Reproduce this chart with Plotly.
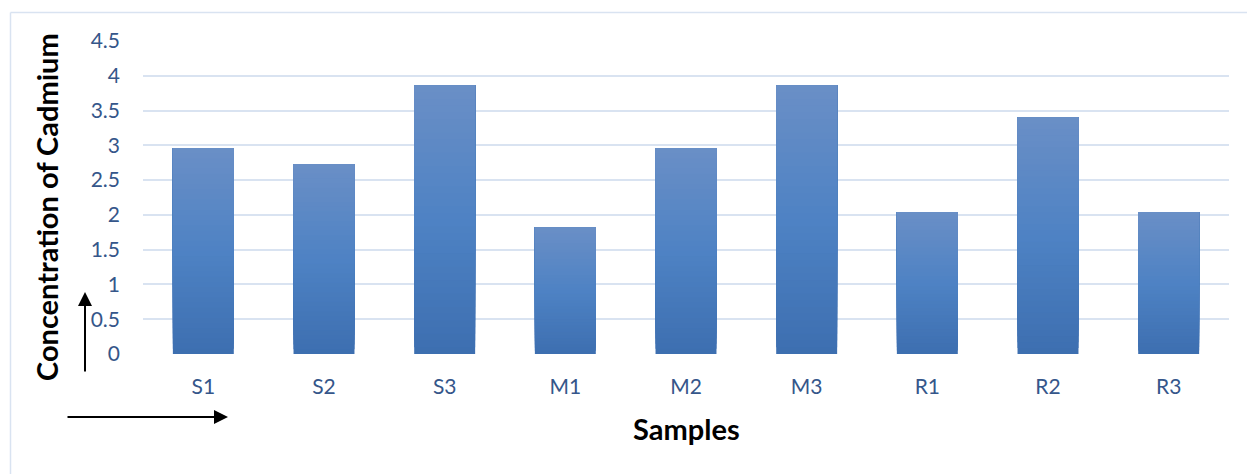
import plotly.graph_objects as go

# Cadmium concentration per sample
samples = ["S1", "S2", "S3", "M1", "M2", "M3", "R1", "R2", "R3"]
cadmium = [2.96, 2.73, 3.86, 1.82, 2.96, 3.86, 2.04, 3.40, 2.04]
y_ticks = [0, 0.5, 1, 1.5, 2, 2.5, 3, 3.5, 4, 4.5]
y_tick_text = ["0", "0.5", "1", "1.5", "2", "2.5", "3", "3.5", "4", "4.5"]

W, H = 1247, 474
L, R, T, B = 143, 18, 41, 120
PW, PH = W - L - R, H - T - B
FONT = "Lato"
TICK_COLOR = "#35568a"


def px(x):
    return (x - L) / PW


def py(y):
    return (H - B - y) / PH


def lerp(c0, c1, t):
    return tuple(round(a + (b - a) * t) for a, b in zip(c0, c1))


# vertical gradient on each bar: dark at base, brighter middle, lighter top
stops = [(0.0, (61, 111, 176)), (0.5, (78, 130, 196)), (1.0, (106, 143, 198))]


def grad(t):
    for (t0, c0), (t1, c1) in zip(stops, stops[1:]):
        if t <= t1:
            return lerp(c0, c1, (t - t0) / (t1 - t0))
    return stops[-1][1]


# each layer runs from its own start up to the bar's top, so later layers
# cover earlier ones and the bands join without seams
N = 40
fig = go.Figure()
for k in range(N):
    c = grad((k + 0.5) / N)
    fig.add_trace(go.Bar(
        x=samples,
        y=[v * (N - k) / N for v in cadmium],
        base=[v * k / N for v in cadmium],
        width=0.505,
        marker=dict(color=f"rgb{c}", line=dict(width=0)),
        showlegend=False,
        hoverinfo="skip",
    ))

fig.update_layout(
    width=W, height=H,
    margin=dict(l=L, r=R, t=T, b=B),
    barmode="overlay",
    paper_bgcolor="white",
    plot_bgcolor="white",
    font=dict(family=FONT),
    xaxis=dict(
        showgrid=False, showline=False, zeroline=False,
        tickfont=dict(size=21, color=TICK_COLOR, family=FONT),
        ticks="", ticklabelstandoff=18,
    ),
    yaxis=dict(
        range=[0, 4.5], tickvals=y_ticks, ticktext=y_tick_text,
        showgrid=True, gridcolor="#d9e3f1", gridwidth=1.6,
        zeroline=False, showline=False, ticks="",
        tickfont=dict(size=21, color=TICK_COLOR, family=FONT),
        ticklabelstandoff=22,
    ),
    shapes=[
        dict(type="line", xref="paper", yref="paper",
             x0=px(10.5), x1=px(W + 5), y0=py(12.5), y1=py(12.5),
             line=dict(color="#d9e3f1", width=1.5)),
        dict(type="line", xref="paper", yref="paper",
             x0=px(10.5), x1=px(10.5), y0=py(12.5), y1=py(H + 5),
             line=dict(color="#d9e3f1", width=1.5)),
    ],
    annotations=[
        dict(text="<b>Concentration of Cadmium</b>", xref="paper", yref="paper",
             x=px(46), y=py(207), textangle=-90, showarrow=False,
             font=dict(size=29, color="black", family=FONT),
             xanchor="center", yanchor="middle"),
        dict(text="<b>Samples</b>", xref="paper", yref="paper",
             x=px(686), y=py(428), showarrow=False,
             font=dict(size=29, color="black", family=FONT),
             xanchor="center", yanchor="middle"),
        dict(text="", xref="paper", yref="paper", x=px(85), y=py(292),
             showarrow=True, arrowhead=2, arrowsize=1.4, arrowwidth=2,
             arrowcolor="black", ax=0, ay=81),
        dict(text="", xref="paper", yref="paper", x=px(228), y=py(417),
             showarrow=True, arrowhead=2, arrowsize=1.4, arrowwidth=2,
             arrowcolor="black", ax=-162, ay=0),
    ],
)

fig.write_html("out.html")
